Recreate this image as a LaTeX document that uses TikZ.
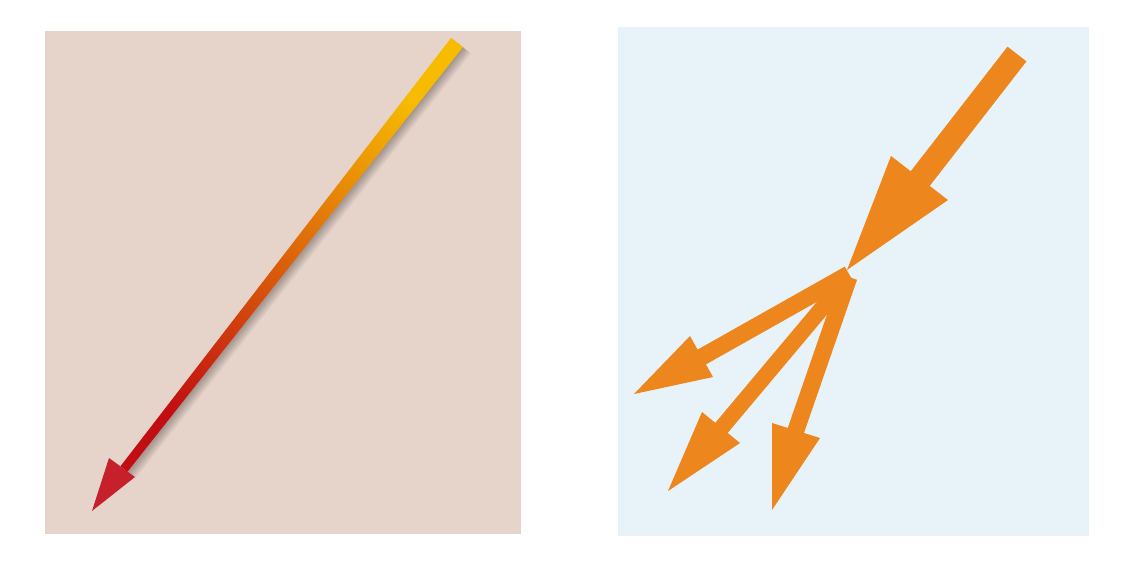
\documentclass[tikz,border=0pt]{standalone}
\begin{document}
\definecolor{leftbg}{RGB}{230,212,203}
\definecolor{rightbg}{RGB}{232,243,249}
\definecolor{arrorange}{RGB}{238,134,30}
\definecolor{gyellow}{RGB}{247,188,0}
\definecolor{gorange}{RGB}{224,118,0}
\definecolor{gred}{RGB}{194,14,18}
\definecolor{headred}{RGB}{197,32,44}
\begin{tikzpicture}[x=0.02cm,y=-0.02cm,
  oshaft/.style={draw=arrorange,line cap=butt},
  ohead/.style={fill=arrorange},
  shadowlayer/.style={fill=black,opacity=0.04}]
\useasboundingbox (0,0) rectangle (1137,578);
% panels
\fill[leftbg] (45,31) rectangle (521,534);
\fill[rightbg] (618,27) rectangle (1089,536);
% left gradient arrow: soft shadow
\foreach \k in {1,...,8}{
  \fill[shadowlayer,shift={(1.0*\k,0.8*\k)}]
    (451.1,37.9) -- (462.9,47.1) -- (127.5,471.8) -- (120.5,466.2) -- cycle;
}
\shade[top color=gyellow,middle color=gorange,bottom color=gred,shading angle=-38]
  (451.1,37.9) -- (462.9,47.1) -- (127.5,471.8) -- (120.5,466.2) -- cycle;
\fill[headred] (109,458) -- (135,477) -- (92,511) -- cycle;
% right panel: main arrow
\coordinate (mtail) at (1017,54);
\coordinate (mend) at (916,184);
\draw[oshaft,line width=0.48cm] (mtail) -- (mend);
\fill[ohead] (891,156) -- (948,200) -- (847,270) -- cycle;
% branches
\coordinate (b1s) at (849,274);
\coordinate (b1e) at (700,358);
\draw[oshaft,line width=0.34cm] (b1s) -- (b1e);
\fill[ohead] (690,336) -- (713,377) -- (634,394) -- cycle;
\coordinate (b2s) at (849,276);
\coordinate (b2e) at (718,432);
\draw[oshaft,line width=0.32cm] (b2s) -- (b2e);
\fill[ohead] (702,412) -- (740,443) -- (668,491) -- cycle;
\coordinate (b3s) at (849,277);
\coordinate (b3e) at (794.4,434.7);
\draw[oshaft,line width=0.34cm] (b3s) -- (b3e);
\fill[ohead] (772,423) -- (820,438) -- (772,510) -- cycle;
\end{tikzpicture}
\end{document}
